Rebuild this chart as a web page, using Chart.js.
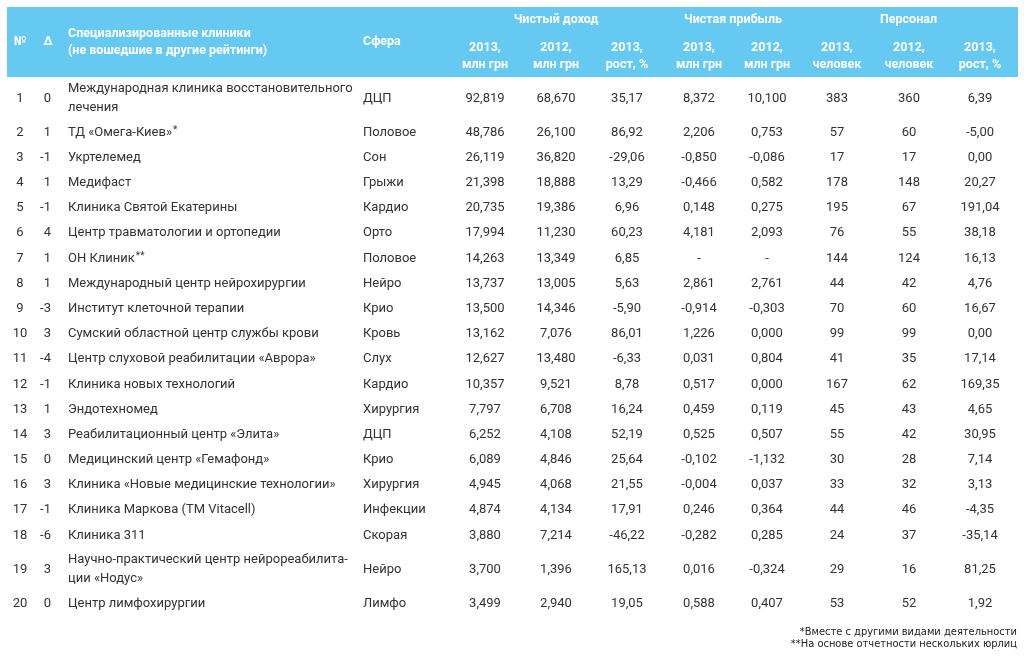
<!DOCTYPE html>
<html lang="ru">
<head>
<meta charset="utf-8">
<script src="https://cdn.jsdelivr.net/npm/chart.js@4"></script>
<style>
  html, body { margin: 0; padding: 0; background: #fff; }
  #wrap { width: 1024px; height: 658px; }
</style>
</head>
<body>
<div id="wrap"><canvas id="tableChart" width="1024" height="658"></canvas></div>
<script>
// Table data
const ranks = [1, 2, 3, 4, 5, 6, 7, 8, 9, 10, 11, 12, 13, 14, 15, 16, 17, 18, 19, 20];
const deltas = [0, 1, -1, 1, -1, 4, 1, 1, -3, 3, -4, -1, 1, 3, 0, 3, -1, -6, 3, 0];
const clinics = [
    'Международная клиника восстановительного\nлечения',
    'ТД «Омега-Киев»*',
    'Укртелемед',
    'Медифаст',
    'Клиника Святой Екатерины',
    'Центр травматологии и ортопедии',
    'ОН Клиник**',
    'Международный центр нейрохирургии',
    'Институт клеточной терапии',
    'Сумский областной центр службы крови',
    'Центр слуховой реабилитации «Аврора»',
    'Клиника новых технологий',
    'Эндотехномед',
    'Реабилитационный центр «Элита»',
    'Медицинский центр «Гемафонд»',
    'Клиника «Новые медицинские технологии»',
    'Клиника Маркова (ТМ Vitacell)',
    'Клиника 311',
    'Научно-практический центр нейрореабилита-\nции «Нодус»',
    'Центр лимфохирургии'
];
const spheres = ['ДЦП', 'Половое', 'Сон', 'Грыжи', 'Кардио', 'Орто', 'Половое', 'Нейро', 'Крио', 'Кровь',
    'Слух', 'Кардио', 'Хирургия', 'ДЦП', 'Крио', 'Хирургия', 'Инфекции', 'Скорая', 'Нейро', 'Лимфо'];
const revenue2013 = [92.819, 48.786, 26.119, 21.398, 20.735, 17.994, 14.263, 13.737, 13.500, 13.162,
    12.627, 10.357, 7.797, 6.252, 6.089, 4.945, 4.874, 3.880, 3.700, 3.499];
const revenue2012 = [68.670, 26.100, 36.820, 18.888, 19.386, 11.230, 13.349, 13.005, 14.346, 7.076,
    13.480, 9.521, 6.708, 4.108, 4.846, 4.068, 4.134, 7.214, 1.396, 2.940];
const revenueGrowth = [35.17, 86.92, -29.06, 13.29, 6.96, 60.23, 6.85, 5.63, -5.90, 86.01,
    -6.33, 8.78, 16.24, 52.19, 25.64, 21.55, 17.91, -46.22, 165.13, 19.05];
const profit2013 = [8.372, 2.206, -0.850, -0.466, 0.148, 4.181, null, 2.861, -0.914, 1.226,
    0.031, 0.517, 0.459, 0.525, -0.102, -0.004, 0.246, -0.282, 0.016, 0.588];
const profit2012 = [10.100, 0.753, -0.086, 0.582, 0.275, 2.093, null, 2.761, -0.303, 0.000,
    0.804, 0.000, 0.119, 0.507, -1.132, 0.037, 0.364, 0.285, -0.324, 0.407];
const staff2013 = [383, 57, 17, 178, 195, 76, 144, 44, 70, 99, 41, 167, 45, 55, 30, 33, 44, 24, 29, 53];
const staff2012 = [360, 60, 17, 148, 67, 55, 124, 42, 60, 99, 35, 62, 43, 42, 28, 32, 46, 37, 16, 52];
const staffGrowth = [6.39, -5.00, 0.00, 20.27, 191.04, 38.18, 16.13, 4.76, 16.67, 0.00,
    17.14, 169.35, 4.65, 30.95, 7.14, 3.13, -4.35, -35.14, 81.25, 1.92];

// Header texts
const headerTitles = ['№', 'Δ', 'Специализированные клиники\n(не вошедшие в другие рейтинги)', 'Сфера',
    '2013,\nмлн грн', '2012,\nмлн грн', '2013,\nрост, %',
    '2013,\nмлн грн', '2012,\nмлн грн',
    '2013,\nчеловек', '2012,\nчеловек', '2013,\nрост, %'];
const headerGroups = ['Чистый доход', 'Чистая прибыль', 'Персонал'];
const groupSpans = [[4, 6], [7, 8], [9, 11]];
const footnotes = ['*Вместе с другими видами деятельности', '**На основе отчетности нескольких юрлиц'];

// Layout (column anchors on the x scale, alignment)
const colX = [20, 51, 68, 363, 485, 556, 627, 699, 767, 837, 909, 980];
const colAlign = ['center', 'right', 'left', 'left', 'center', 'center', 'center', 'center', 'center', 'center', 'center', 'center'];

const fmt = (v, d) => v === null ? '-' : v.toFixed(d).replace('.', ',');

const columnTexts = [
    ranks.map(String),
    deltas.map(String),
    clinics,
    spheres,
    revenue2013.map(v => fmt(v, 3)),
    revenue2012.map(v => fmt(v, 3)),
    revenueGrowth.map(v => fmt(v, 2)),
    profit2013.map(v => fmt(v, 3)),
    profit2012.map(v => fmt(v, 3)),
    staff2013.map(String),
    staff2012.map(String),
    staffGrowth.map(v => fmt(v, 2))
];

// Row positions in row units; two-line names get a taller row
const rowHeights = clinics.map(n => n.includes('\n') ? 1.7 : 1);
const rowCenters = [];
let acc = 0;
rowHeights.forEach(h => { rowCenters.push(acc + h / 2); acc += h; });
const totalUnits = acc;

const textColor = '#333333';
const headerBg = '#66c9f1';
const bodyFont = '13px Roboto';
const headFont = 'bold 12.5px Roboto';

const datasets = columnTexts.map((texts, c) => ({
    label: 'col' + c,
    texts: texts,
    align: colAlign[c],
    data: rowCenters.map(y => ({ x: colX[c], y: y })),
    pointRadius: 0
}));

// draws "**" / "*" after a name as small raised marks
function drawName(ctx, text, x, y) {
    const m = text.match(/^(.*?)(\*+)$/);
    if (!m) { ctx.fillText(text, x, y); return; }
    ctx.fillText(m[1], x, y);
    const w = ctx.measureText(m[1]).width;
    const f = ctx.font;
    ctx.font = '10px Roboto';
    ctx.fillText(m[2], x + w + 1, y - 2);
    ctx.font = f;
}

const tablePlugin = {
    id: 'tableText',
    beforeDraw(chart) {
        const ctx = chart.ctx;
        const xs = chart.scales.x;
        const top = chart.chartArea.top;
        ctx.save();
        ctx.fillStyle = '#ffffff';
        ctx.fillRect(0, 0, chart.width, chart.height);
        ctx.fillStyle = headerBg;
        ctx.fillRect(7, 7, 1011, top - 7);

        ctx.fillStyle = '#ffffff';
        ctx.font = headFont;
        ctx.textBaseline = 'middle';
        headerTitles.forEach((t, c) => {
            const lines = t.split('\n');
            const x = xs.getPixelForValue(colX[c]);
            ctx.textAlign = colAlign[c] === 'left' ? 'left' : 'center';
            if (c < 4) {
                const mid = 42;
                lines.forEach((ln, i) => ctx.fillText(ln, c === 1 ? x - 3 : x, mid + (i - (lines.length - 1) / 2) * 17));
            } else {
                lines.forEach((ln, i) => ctx.fillText(ln, x, 48 + i * 16.5));
            }
        });
        ctx.textAlign = 'center';
        headerGroups.forEach((g, i) => {
            const a = xs.getPixelForValue(colX[groupSpans[i][0]]);
            const b = xs.getPixelForValue(colX[groupSpans[i][1]]);
            ctx.fillText(g, (a + b) / 2, 20);
        });
        ctx.restore();
    },
    afterDatasetsDraw(chart) {
        const ctx = chart.ctx;
        ctx.save();
        ctx.fillStyle = textColor;
        ctx.font = bodyFont;
        ctx.textBaseline = 'middle';
        chart.data.datasets.forEach((ds, c) => {
            ctx.textAlign = ds.align;
            chart.getDatasetMeta(c).data.forEach((pt, r) => {
                const lines = ds.texts[r].split('\n');
                lines.forEach((ln, i) => {
                    const y = pt.y + (i - (lines.length - 1) / 2) * 18.5;
                    if (c === 2) drawName(ctx, ln, pt.x, y);
                    else ctx.fillText(ln, pt.x, y);
                });
            });
        });
        // footnotes
        ctx.font = '11px "DejaVu Sans Condensed"';
        ctx.fillStyle = '#222222';
        ctx.textAlign = 'right';
        footnotes.forEach((f, i) => ctx.fillText(f, 1017, chart.chartArea.bottom + 16 + i * 12.5));
        ctx.restore();
    }
};

new Chart(document.getElementById('tableChart'), {
    type: 'scatter',
    data: { datasets: datasets },
    options: {
        responsive: false,
        animation: false,
        events: [],
        layout: { padding: { top: 77, bottom: 42, left: 0, right: 0 } },
        plugins: {
            legend: { display: false },
            tooltip: { enabled: false }
        },
        scales: {
            x: { type: 'linear', min: 0, max: 1024, display: false },
            y: { type: 'linear', min: 0, max: totalUnits, reverse: true, display: false }
        }
    },
    plugins: [tablePlugin]
});
</script>
</body>
</html>
